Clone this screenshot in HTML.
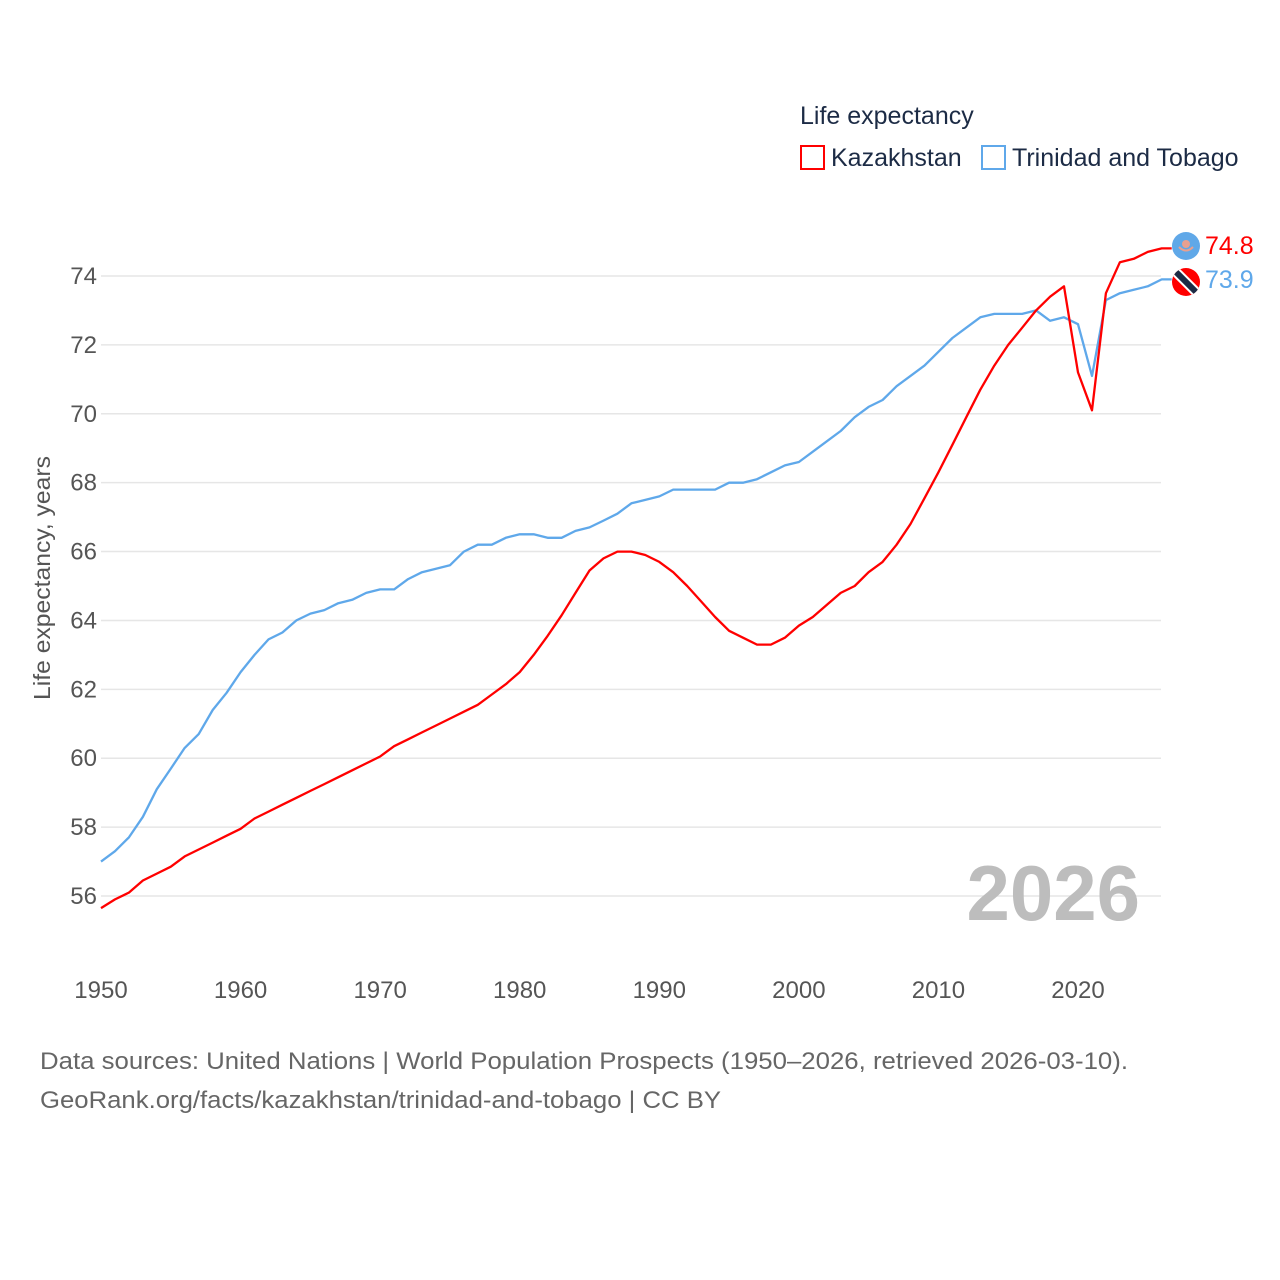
<!DOCTYPE html>
<html><head><meta charset="utf-8"><style>
html,body{margin:0;padding:0;background:#fff;}
svg{display:block;font-family:"Liberation Sans",sans-serif;}
</style></head><body>
<svg id="chart" width="1280" height="1280" viewBox="0 0 1280 1280">
<g id="grid"></g>
<g id="yticks"></g>
<g id="xticks"></g>
<text x="50" y="578" transform="rotate(-90 50 578)" text-anchor="middle" font-size="23" fill="#555" textLength="244" lengthAdjust="spacingAndGlyphs">Life expectancy, years</text>
<text x="1140" y="920" text-anchor="end" font-size="78" font-weight="bold" fill="#bdbdbd">2026</text>
<g id="series"></g>
<g>
<text x="800" y="124" font-size="25" fill="#1c2b45">Life expectancy</text>
<g>
<rect x="801" y="146" width="23" height="23" fill="none" stroke="#ff0000" stroke-width="2"/>
<text x="831" y="166" font-size="25" fill="#1c2b45">Kazakhstan</text></g>
<g>
<rect x="982" y="146" width="23" height="23" fill="none" stroke="#5fa8ea" stroke-width="2"/>
<text x="1012" y="166" font-size="25" fill="#1c2b45">Trinidad and Tobago</text></g>
</g>
<g>
<g>
<circle cx="1186" cy="246" r="14" fill="#60a8e8"/>
<circle cx="1186" cy="244" r="4" fill="#e8a090"/>
<path d="M1179 247 Q1186 254 1193 247" stroke="#e8a090" stroke-width="2" fill="none"/></g>
<g>
<clipPath id="tc"><circle cx="1186" cy="282" r="14"/></clipPath>
<circle cx="1186" cy="282" r="14" fill="#ff0000"/>
<line x1="1172" y1="268" x2="1200" y2="296" stroke="#fff" stroke-width="10" clip-path="url(#tc)"/>
<line x1="1172" y1="268" x2="1200" y2="296" stroke="#1c2b45" stroke-width="6" clip-path="url(#tc)"/></g>
<text x="1205" y="254" font-size="25" fill="#ff0000">74.8</text>
<text x="1205" y="288" font-size="25" fill="#5fa8ea">73.9</text>
</g>
<text x="40" y="1069" font-size="24" fill="#666" textLength="1088" lengthAdjust="spacingAndGlyphs">Data sources: United Nations | World Population Prospects (1950–2026, retrieved 2026-03-10).</text>
<text x="40" y="1108" font-size="24" fill="#666" textLength="681" lengthAdjust="spacingAndGlyphs">GeoRank.org/facts/kazakhstan/trinidad-and-tobago | CC BY</text>
</svg>
<script>
const startYear = 1950;
const kazakhstan = [55.65,55.9,56.1,56.45,56.65,56.85,57.15,57.35,57.55,57.75,57.95,58.25,58.45,58.65,58.85,59.05,59.25,59.45,59.65,59.85,60.05,60.35,60.55,60.75,60.95,61.15,61.35,61.55,61.85,62.15,62.5,63.0,63.55,64.15,64.8,65.45,65.8,66.0,66.0,65.9,65.7,65.4,65.0,64.55,64.1,63.7,63.5,63.3,63.3,63.5,63.85,64.1,64.45,64.8,65.0,65.4,65.7,66.2,66.8,67.55,68.3,69.1,69.9,70.7,71.4,72.0,72.5,73.0,73.4,73.7,71.2,70.1,73.5,74.4,74.5,74.7,74.8];
const trinidad = [57.0,57.3,57.7,58.3,59.1,59.7,60.3,60.7,61.4,61.9,62.5,63.0,63.45,63.65,64.0,64.2,64.3,64.5,64.6,64.8,64.9,64.9,65.2,65.4,65.5,65.6,66.0,66.2,66.2,66.4,66.5,66.5,66.4,66.4,66.6,66.7,66.9,67.1,67.4,67.5,67.6,67.8,67.8,67.8,67.8,68.0,68.0,68.1,68.3,68.5,68.6,68.9,69.2,69.5,69.9,70.2,70.4,70.8,71.1,71.4,71.8,72.2,72.5,72.8,72.9,72.9,72.9,73.0,72.7,72.8,72.6,71.1,73.3,73.5,73.6,73.7,73.9];
const yTicks = [56,58,60,62,64,66,68,70,72,74];
const xTicks = [1950,1960,1970,1980,1990,2000,2010,2020];
const NS = "http://www.w3.org/2000/svg";
function xs(yr){return 101 + (yr-1950)*(1078-101)/70;}
function ys(v){return 276 + (74-v)*(896-276)/18;}
const grid=document.getElementById('grid'), yt=document.getElementById('yticks'), xt=document.getElementById('xticks'), ser=document.getElementById('series');
yTicks.forEach(v=>{
  const l=document.createElementNS(NS,'line');
  l.setAttribute('x1',101);l.setAttribute('x2',1161);l.setAttribute('y1',ys(v));l.setAttribute('y2',ys(v));
  l.setAttribute('stroke','#e6e6e6');l.setAttribute('stroke-width','1.5');
  
  
  grid.appendChild(l);
  const t=document.createElementNS(NS,'text');
  t.setAttribute('x',97);t.setAttribute('y',ys(v)+8);t.setAttribute('text-anchor','end');
  t.setAttribute('font-size','24');t.setAttribute('fill','#555');t.textContent=v;
  
  
  yt.appendChild(t);
});
xTicks.forEach(yr=>{
  const t=document.createElementNS(NS,'text');
  t.setAttribute('x',xs(yr));t.setAttribute('y',998);t.setAttribute('text-anchor','middle');
  t.setAttribute('font-size','24');t.setAttribute('fill','#555');t.textContent=yr;
  
  
  xt.appendChild(t);
});
function draw(arr,color,name){
  let d=arr.map((v,i)=>(i?'L':'M')+xs(startYear+i).toFixed(1)+' '+ys(v).toFixed(1)).join(' ');
  const last=arr.length-1;
  d+=' L'+(xs(startYear+last)+10).toFixed(1)+' '+ys(arr[last]).toFixed(1);
  const p=document.createElementNS(NS,'path');
  p.setAttribute('d',d);p.setAttribute('fill','none');p.setAttribute('stroke',color);
  p.setAttribute('stroke-width','2.3');p.setAttribute('stroke-linejoin','round');
  
  
  ser.appendChild(p);
}
draw(trinidad,'#5fa8ea','trinidad-line');
draw(kazakhstan,'#ff0000','kazakhstan-line');
</script>
</body></html>
